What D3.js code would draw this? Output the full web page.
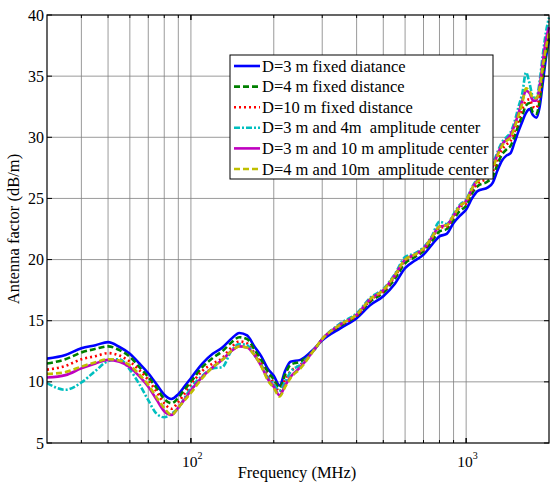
<!DOCTYPE html>
<html lang="en">
<head>
<meta charset="UTF-8">
<title>Antenna factor</title>
<style>
    body { margin: 0; background: #fff; }
    svg text { font-family: "Liberation Serif", "Times New Roman", serif; fill: #000; white-space: pre; }
</style>
</head>
<body>
<svg id="chart" width="550" height="486"></svg>
<script src="https://cdn.jsdelivr.net/npm/d3@7"></script>
<script>
// frequencies (MHz)
const freq = [30,35,40,45,50,55,60,65,70,75,80,85,90,95,100,110,120,130,140,150,160,170,180,190,200,210,220,230,250,280,300,350,400,450,500,550,600,650,700,750,800,850,900,950,1000,1050,1100,1200,1250,1300,1350,1400,1450,1500,1550,1600,1650,1700,1750,1800,1850,1900,1950,2000];

const d3mFixed = [11.9,12.2,12.75,13.0,13.25,12.85,12.3,11.5,10.7,9.8,8.95,8.6,9.0,9.65,10.3,11.5,12.3,12.8,13.5,14.0,13.8,12.9,12.1,11.1,10.5,9.7,10.9,11.65,11.8,12.7,13.4,14.4,15.2,16.3,17.0,18.0,19.3,19.9,20.4,21.2,21.9,22.1,23.0,23.6,24.1,25.0,25.6,25.9,26.3,27.3,28.1,28.5,28.7,29.6,30.5,31.3,32.0,32.3,31.8,31.6,32.5,34.5,36.5,38.0];
const d4mFixed = [11.5,11.85,12.4,12.7,12.9,12.6,12.05,11.2,10.4,9.5,8.6,8.25,8.7,9.4,10.0,11.2,11.95,12.5,13.2,13.65,13.5,12.65,11.8,10.85,10.2,9.5,10.6,11.4,11.65,12.6,13.5,14.6,15.4,16.6,17.3,18.4,19.7,20.2,20.7,21.5,22.3,22.5,23.3,24.0,24.4,25.4,26.0,26.4,26.8,27.8,28.6,29.0,29.3,30.1,31.0,31.8,32.6,32.8,32.0,31.9,33.0,35.0,36.8,38.2];
const d10mFixed = [11.0,11.3,11.85,12.1,12.35,12.15,11.65,10.95,10.15,9.2,8.25,7.8,8.35,9.05,9.75,10.9,11.5,11.95,12.8,13.3,13.15,12.35,11.5,10.55,9.9,9.2,10.2,10.85,11.4,12.6,13.5,14.65,15.4,16.7,17.4,18.6,19.9,20.35,20.8,21.7,22.6,22.7,23.5,24.3,24.6,25.6,26.2,26.7,27.2,28.2,29.0,29.4,29.7,30.5,31.4,32.3,33.0,33.1,32.5,32.4,33.5,35.5,37.3,38.4];
const d3m4mCenter = [9.9,9.35,9.95,10.9,11.7,11.85,11.0,9.8,8.5,7.4,7.1,7.4,7.85,8.7,9.5,10.5,11.1,11.2,12.5,13.1,13.0,12.2,11.4,10.4,9.8,9.3,10.0,10.8,11.4,12.6,13.5,14.8,15.6,16.9,17.6,18.8,20.2,20.5,21.0,21.9,23.1,22.9,23.7,24.5,24.9,25.9,26.6,27.1,27.8,28.8,29.6,30.0,30.4,31.3,32.5,33.6,35.3,34.4,33.3,33.2,34.6,36.8,38.6,39.8];
const d3m10mCenter = [10.35,10.55,11.1,11.5,11.8,11.65,11.2,10.45,9.6,8.55,7.6,7.3,7.9,8.6,9.3,10.4,11.2,11.8,12.5,12.9,12.8,12.2,11.3,10.25,9.6,8.9,9.7,10.4,11.2,12.6,13.5,14.7,15.5,16.8,17.5,18.7,20.0,20.4,20.9,21.8,22.7,22.8,23.6,24.4,24.8,25.8,26.5,27.0,27.6,28.6,29.4,29.8,30.2,31.0,32.0,33.0,33.8,33.6,33.0,33.0,34.2,36.2,38.0,39.0];
const d4m10mCenter = [10.65,10.8,11.25,11.6,11.85,11.75,11.35,10.6,9.75,8.75,7.85,7.3,7.9,8.5,9.1,10.3,11.2,11.8,12.5,12.9,12.8,12.2,11.3,10.15,9.5,8.8,9.6,10.3,11.1,12.6,13.5,14.7,15.5,16.8,17.5,18.7,20.0,20.4,20.9,21.8,22.7,22.8,23.6,24.4,24.8,25.8,26.4,26.9,27.5,28.5,29.3,29.7,30.0,30.8,31.8,32.8,34.0,33.8,33.2,33.2,34.0,35.8,37.3,38.5];

const seriesNames = [
    "D=3 m fixed diatance",
    "D=4 m fixed distance",
    "D=10 m fixed distance",
    "D=3 m and 4m  amplitude center",
    "D=3 m and 10 m amplitude center",
    "D=4 m and 10m  amplitude center"
];
const seriesValues = [d3mFixed, d4mFixed, d10mFixed, d3m4mCenter, d3m10mCenter, d4m10mCenter];
const yTicks = [5, 10, 15, 20, 25, 30, 35, 40];
const xMajor = [100, 1000];

// styles
const colors = ["#0000ff", "#008000", "#ff0000", "#00bfbf", "#bf00bf", "#bfbf00"];
const dashes = [null, "6,3", "2,3", "6,2,2,2", null, "6,3"];

const svg = d3.select("#chart");
const mLeft = 47, mRight = 549, mTop = 15, mBottom = 443;

const x = d3.scaleLog().domain([30, 2000]).range([mLeft, mRight]);
const y = d3.scaleLinear().domain([5, 40]).range([mBottom, mTop]);

// minor ticks for grid
const xGrid = [];
[10, 100, 1000].forEach(function (d) {
    for (let k = 1; k <= 9; k++) {
        const v = d * k;
        if (v > 30 && v < 2000) xGrid.push(v);
    }
});

const grid = svg.append("g").attr("stroke", "#808080").attr("stroke-width", 0.8);
grid.selectAll("line.v").data(xGrid).enter().append("line")
    .attr("x1", d => x(d)).attr("x2", d => x(d))
    .attr("y1", mTop).attr("y2", mBottom);
grid.selectAll("line.h").data(yTicks.slice(1, -1)).enter().append("line")
    .attr("x1", mLeft).attr("x2", mRight)
    .attr("y1", d => y(d)).attr("y2", d => y(d));

// curves
svg.append("clipPath").attr("id", "plotClip").append("rect")
    .attr("x", mLeft).attr("y", mTop - 2).attr("width", mRight - mLeft + 2).attr("height", mBottom - mTop + 2);

const line = d3.line()
    .x((d, i) => x(freq[i]))
    .y(d => y(d))
    .curve(d3.curveMonotoneX);

svg.append("g").attr("clip-path", "url(#plotClip)")
    .selectAll("path").data(seriesValues).enter().append("path")
    .attr("d", d => line(d))
    .attr("fill", "none")
    .attr("stroke", (d, i) => colors[i])
    .attr("stroke-width", 2.6)
    .attr("stroke-dasharray", (d, i) => dashes[i]);

// axis box
svg.append("rect")
    .attr("x", mLeft).attr("y", mTop)
    .attr("width", mRight - mLeft).attr("height", mBottom - mTop)
    .attr("fill", "none").attr("stroke", "#000").attr("stroke-width", 1.2);

// ticks (inward, matlab style)
const ticks = svg.append("g").attr("stroke", "#000").attr("stroke-width", 1);
xGrid.concat(xMajor).forEach(function (d) {
    const len = xMajor.indexOf(d) >= 0 ? 5 : 3;
    ticks.append("line").attr("x1", x(d)).attr("x2", x(d)).attr("y1", mBottom).attr("y2", mBottom - len);
    ticks.append("line").attr("x1", x(d)).attr("x2", x(d)).attr("y1", mTop).attr("y2", mTop + len);
});
yTicks.forEach(function (d) {
    ticks.append("line").attr("x1", mLeft).attr("x2", mLeft + 5).attr("y1", y(d)).attr("y2", y(d));
    ticks.append("line").attr("x1", mRight - 5).attr("x2", mRight).attr("y1", y(d)).attr("y2", y(d));
});

// tick labels
svg.append("g").selectAll("text").data(yTicks).enter().append("text")
    .attr("x", mLeft - 3).attr("y", d => y(d) + 5.5)
    .attr("text-anchor", "end")
    .attr("font-size", 16)
    .text(d => d);

const xl = svg.append("g").selectAll("text").data(xMajor).enter().append("text")
    .attr("x", d => x(d) - 9).attr("y", 467)
    .attr("font-size", 15.5);
xl.append("tspan").text("10");
xl.append("tspan").attr("dy", -8).attr("font-size", 10).text(d => Math.round(Math.log10(d)));

// axis titles
svg.append("text")
    .attr("x", 297).attr("y", 478)
    .attr("text-anchor", "middle").attr("font-size", 16.5)
    .text("Frequency (MHz)");
svg.append("text")
    .attr("transform", "translate(19," + ((mTop + mBottom) / 2) + ") rotate(-90)")
    .attr("text-anchor", "middle").attr("font-size", 16.5)
    .text("Antenna factor (dB/m)");

// legend
const lg = svg.append("g");
lg.append("rect")
    .attr("x", 230).attr("y", 55).attr("width", 263).attr("height", 124)
    .attr("fill", "#fff").attr("stroke", "#000").attr("stroke-width", 1);
seriesNames.forEach(function (name, i) {
    const cy = 66 + i * 20.6;
    lg.append("line")
        .attr("x1", 234).attr("x2", 260).attr("y1", cy).attr("y2", cy)
        .attr("stroke", colors[i]).attr("stroke-width", 2.6)
        .attr("stroke-dasharray", dashes[i]);
    lg.append("text")
        .attr("x", 262).attr("y", cy + 5.5)
        .attr("font-size", 16.5)
        .text(name);
});
</script>
</body>
</html>
